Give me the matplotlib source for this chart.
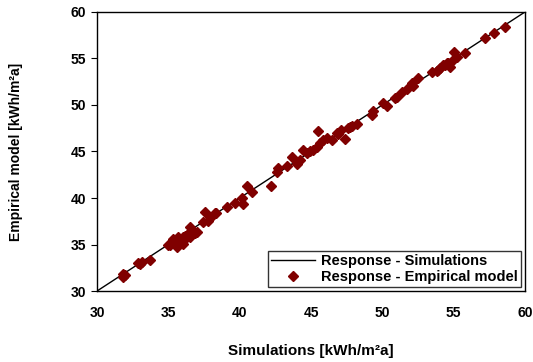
import matplotlib
matplotlib.use("Agg")
import matplotlib.pyplot as plt

plt.rcParams["font.family"] = ["Liberation Sans", "DejaVu Sans"]
plt.rcParams["font.weight"] = "bold"

# ── Data ──
sim = [31.85, 31.96, 31.8, 32.9, 33.13, 33.0, 33.7,
       35.0, 35.23, 35.35, 35.58, 35.7, 35.8, 36.05, 36.29, 36.5, 36.75,
       36.98, 36.05, 36.52, 36.87, 35.1, 35.45, 36.2, 36.6,
       37.4, 37.57, 37.8, 37.92, 38.0, 38.3, 38.34, 39.09, 39.67, 40.14,
       40.2, 40.49, 40.84, 42.17, 42.6, 42.7, 43.29, 43.64, 43.99, 44.46,
       44.7, 44.93, 45.16, 45.4, 45.46, 45.63, 45.86, 46.1, 46.44, 46.8,
       46.9, 47.38, 47.6, 47.73, 47.84, 48.2, 49.25, 49.36, 50.07, 50.3,
       50.88, 51.0, 51.35, 51.7, 52.05, 52.17, 52.47, 53.45, 53.8, 53.9,
       54.04, 54.27, 54.39, 54.5, 54.6, 54.74, 54.97, 55.04, 55.2, 55.79,
       57.19, 57.82, 58.59, 44.2, 44.0, 35.9, 36.35, 47.1]
emp = [31.54, 31.7, 31.8, 33.0, 33.15, 32.9, 33.3,
       34.9, 35.3, 35.55, 34.76, 35.8, 35.55, 35.1, 35.84, 36.9, 36.2,
       36.4, 35.8, 35.77, 36.2, 35.0, 35.5, 35.95, 36.5,
       37.45, 38.45, 37.5, 38.0, 38.0, 38.35, 38.4, 39.0, 39.5, 40.0,
       39.4, 41.3, 40.65, 41.3, 42.8, 43.25, 43.4, 44.4, 43.7, 45.2,
       44.8, 45.0, 45.2, 45.5, 47.25, 45.9, 46.2, 46.4, 46.2, 47.0,
       46.9, 46.3, 47.5, 47.6, 47.7, 48.0, 48.9, 49.4, 50.25, 49.9,
       50.7, 50.9, 51.35, 51.7, 52.4, 52.0, 52.9, 53.5, 53.7, 53.8,
       53.95, 54.3, 54.3, 54.5, 54.5, 54.1, 54.8, 55.7, 55.2, 55.6,
       57.2, 57.7, 58.35, 44.1, 43.9, 35.6, 36.1, 47.3]
line_x = [30, 60]
line_y = [30, 60]

fig = plt.figure(figsize=(5.33, 3.62), dpi=100)
ax = fig.add_axes([0.182, 0.196, 0.803, 0.771])

ax.plot(line_x, line_y, color="black", lw=1.0, label="Response - Simulations", zorder=2)
ax.plot(sim, emp, linestyle="none", marker="D", ms=4.6, color="#800000",
        label="Response - Empirical model", zorder=3)

ax.set_xlim(30, 60)
ax.set_ylim(30, 60)
ax.set_xticks(range(30, 61, 5))
ax.set_yticks(range(30, 61, 5))
ax.tick_params(axis="x", length=0, pad=11, labelsize=10)
ax.tick_params(axis="y", length=4, direction="out", pad=4, labelsize=10)
for s in ax.spines.values():
    s.set_linewidth(1.0)

ax.set_xlabel("Simulations [kWh/m²a]", fontsize=11, fontweight="bold", labelpad=17)
ax.set_ylabel("Empirical model [kWh/m²a]", fontsize=10, fontweight="bold", labelpad=34)

leg = ax.legend(loc="lower right", fontsize=10.5, frameon=True, fancybox=False,
                edgecolor="black", borderpad=0.2, labelspacing=0.1,
                handlelength=3.0, handletextpad=0.4, borderaxespad=0.3)
leg.get_frame().set_linewidth(1.0)

fig.savefig("out.png", dpi=100)
